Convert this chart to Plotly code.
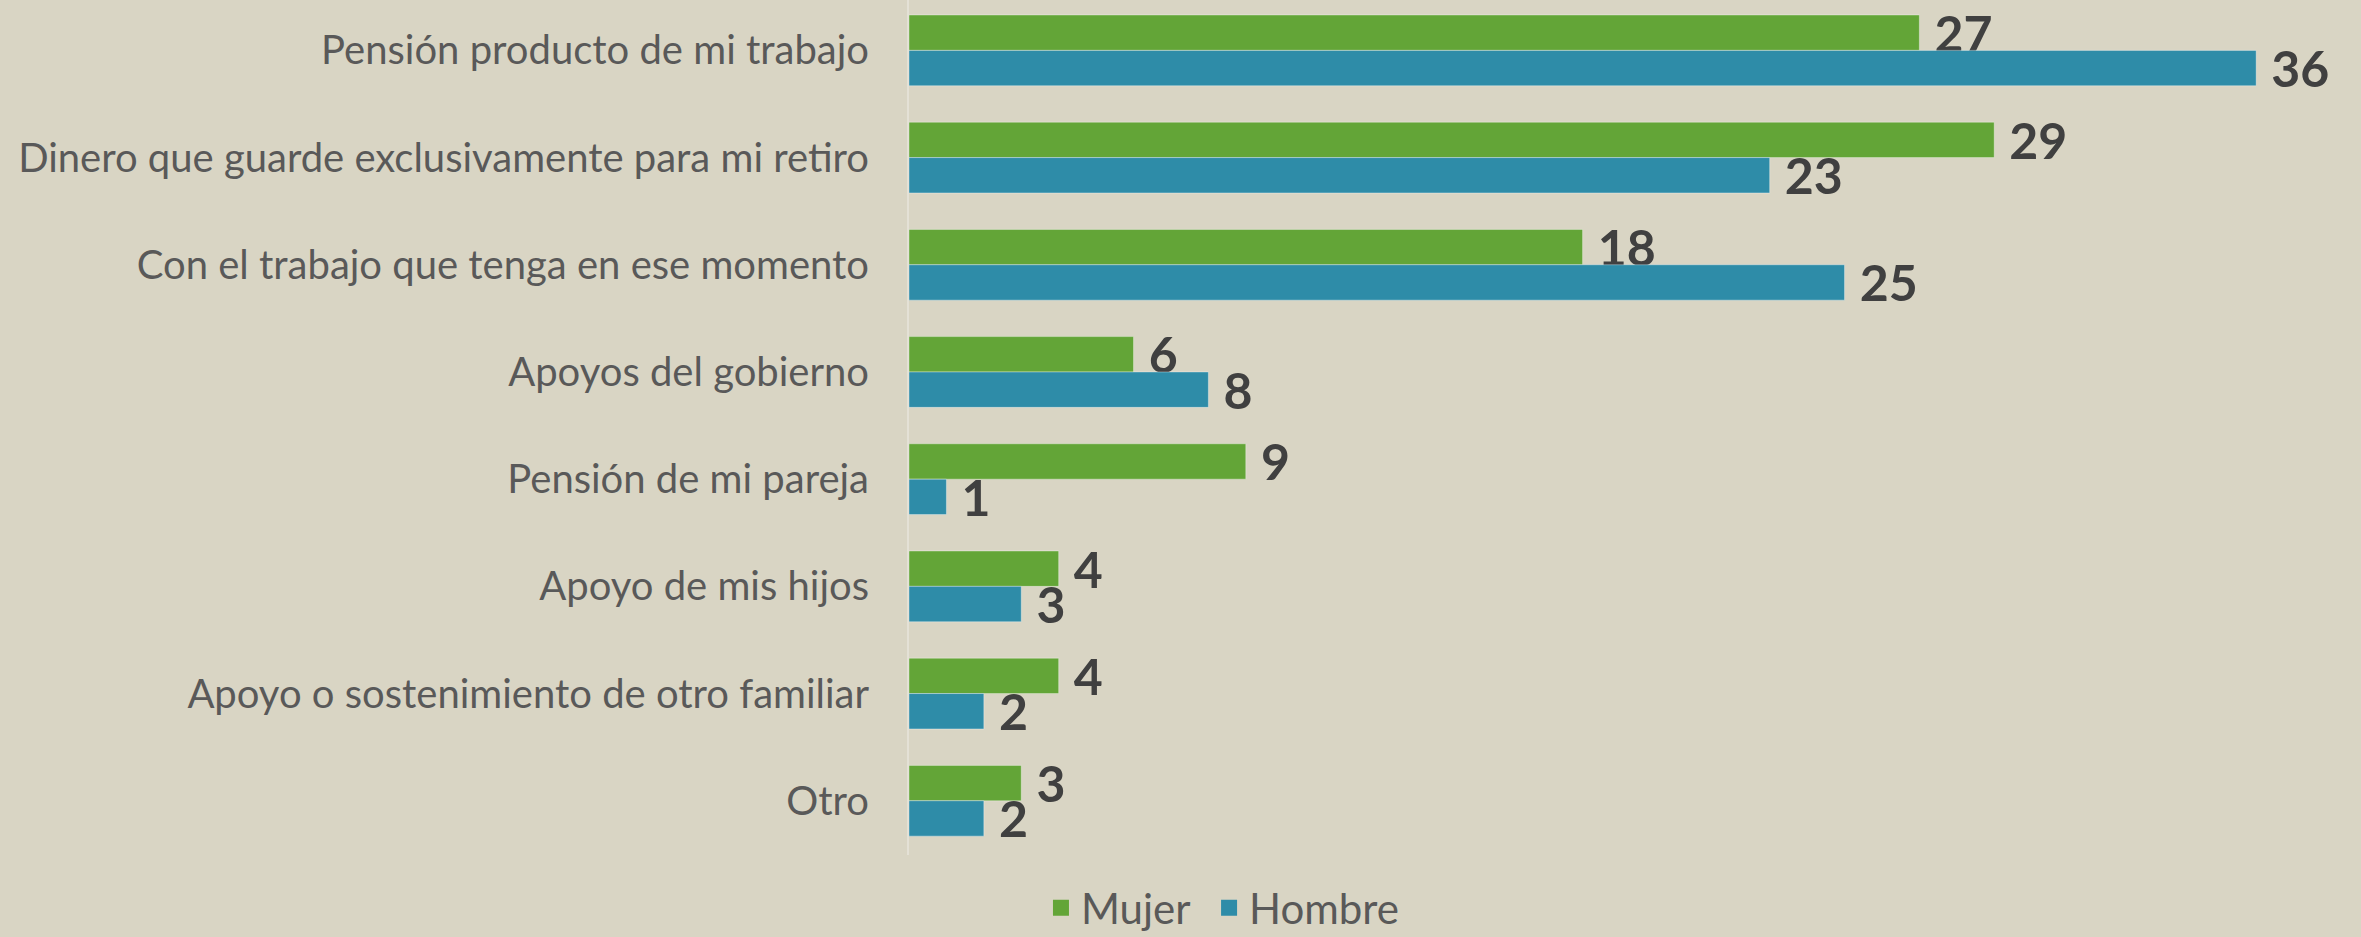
import plotly.graph_objects as go

categories = [
    "Pensión producto de mi trabajo",
    "Dinero que guarde exclusivamente para mi retiro",
    "Con el trabajo que tenga en ese momento",
    "Apoyos del gobierno",
    "Pensión de mi pareja",
    "Apoyo de mis hijos",
    "Apoyo o sostenimiento de otro familiar",
    "Otro",
]
mujer = [27, 29, 18, 6, 9, 4, 4, 3]
hombre = [36, 23, 25, 8, 1, 3, 2, 2]

GREEN = "#63A537"
BLUE = "#2E8CA8"
BG = "#D9D5C4"
FONT = "Lato, 'Open Sans', sans-serif"

fig = go.Figure()
for name, vals, col in [("Mujer", mujer, GREEN), ("Hombre", hombre, BLUE)]:
    fig.add_trace(go.Bar(
        name=name, y=categories, x=vals, orientation="h",
        marker=dict(color=col, line=dict(color="rgba(255,255,255,0.35)", width=1)),
        text=vals, texttemplate="\u00a0%{x}", textposition="outside",
        textfont=dict(family=FONT, size=50, color="#404040", weight="bold"),
        constraintext="none", cliponaxis=False,
        showlegend=False, legendgroup=name,
    ))
# legend-only entries (larger square swatches), one legend box each
for name, col, lg in [("Mujer", GREEN, "legend"), ("Hombre", BLUE, "legend2")]:
    fig.add_trace(go.Scatter(
        name=name, x=[None], y=[None], mode="markers",
        marker=dict(symbol="square", size=20, color=col),
        legendgroup=name, showlegend=True, hoverinfo="skip", legend=lg,
    ))

leg_common = dict(orientation="h", xref="container", yref="container",
                  xanchor="left", yanchor="middle", y=0.031,
                  font=dict(size=42, color="#595959"), bgcolor="rgba(0,0,0,0)",
                  itemsizing="trace", itemwidth=30)

fig.update_layout(
    width=2361, height=937,
    paper_bgcolor=BG, plot_bgcolor=BG,
    barmode="group", bargap=0.34, bargroupgap=0,
    margin=dict(l=909, r=30, t=0, b=82, autoexpand=False),
    font=dict(family=FONT, size=40, color="#595959"),
    showlegend=True,
    legend=dict(x=0.4409, **leg_common),
    legend2=dict(x=0.5121, **leg_common),
    xaxis=dict(range=[0, 38], visible=False, showgrid=False, zeroline=False),
    yaxis=dict(range=[7.506, -0.47], showgrid=False, zeroline=False,
               showline=True, linecolor="#E4E1D6", linewidth=2,
               ticks="", ticklabelstandoff=30,
               tickfont=dict(size=40, color="#595959")),
)

fig.write_html(
    "out.html",
    config={"displayModeBar": False},
    post_script="document.body.style.margin='0';document.body.style.overflow='hidden';",
)
